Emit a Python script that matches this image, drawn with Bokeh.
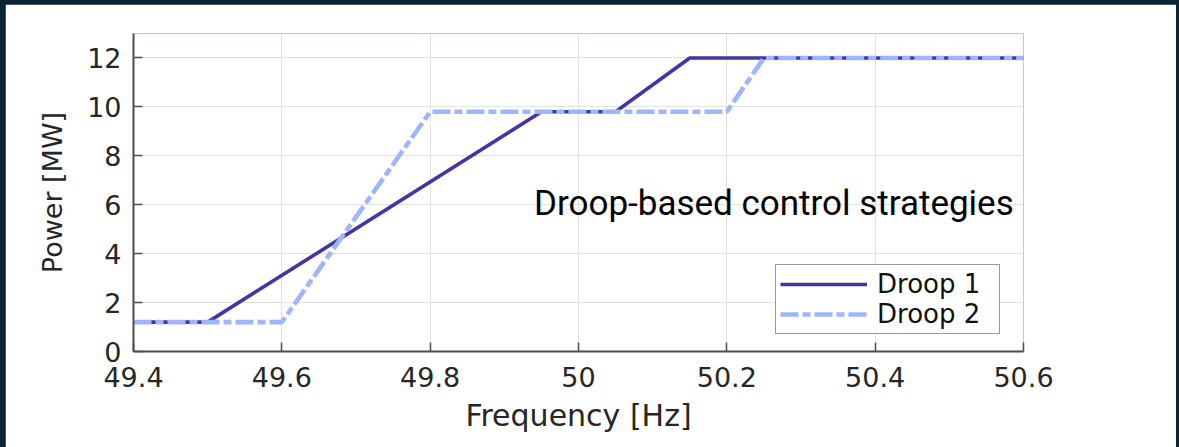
from bokeh.plotting import figure
from bokeh.models import Legend, LegendItem, Label, Column, FixedTicker
from bokeh.embed import file_html
from bokeh.resources import INLINE

# Droop characteristics: frequency [Hz] -> power [MW]
freq_droop1 = [49.4, 49.5, 49.95, 50.05, 50.15, 50.6]
power_droop1 = [1.2, 1.2, 9.8, 9.8, 12.0, 12.0]
freq_droop2 = [49.4, 49.6, 49.8, 50.2, 50.25, 50.6]
power_droop2 = [1.2, 1.2, 9.8, 9.8, 12.0, 12.0]

x_ticks = [49.4, 49.6, 49.8, 50.0, 50.2, 50.4, 50.6]
x_tick_labels = ["49.4", "49.6", "49.8", "50", "50.2", "50.4", "50.6"]
y_ticks = [0, 2, 4, 6, 8, 10, 12]

series_names = ["Droop 1", "Droop 2"]
annotation_text = "Droop-based control strategies"

TICK_FONT = "DejaVu Sans"
TEXT_COLOR = "#262626"

p = figure(
    frame_width=890, frame_height=318,
    min_border_left=128, min_border_right=153,
    min_border_top=29, min_border_bottom=96,
    x_range=(49.4, 50.6), y_range=(0, 13),
    output_backend="svg", toolbar_location=None,
    background_fill_color="white", border_fill_color="white",
)
p.outline_line_color = None

# grid
p.xgrid.ticker = FixedTicker(ticks=x_ticks)
p.ygrid.ticker = FixedTicker(ticks=y_ticks)
for g in (p.xgrid, p.ygrid):
    g.grid_line_color = "#e2e2e2"
    g.grid_line_width = 1

# axes
p.xaxis.ticker = FixedTicker(ticks=x_ticks)
p.xaxis.major_label_overrides = {t: s for t, s in zip(x_ticks, x_tick_labels)}
p.yaxis.ticker = FixedTicker(ticks=y_ticks)
p.xaxis.axis_label = "Frequency [Hz]"
p.yaxis.axis_label = "Power [MW]"
for ax in (p.xaxis, p.yaxis):
    ax.axis_line_color = "#4d4d4d"
    ax.axis_line_width = 2
    ax.major_tick_line_color = "#4d4d4d"
    ax.major_tick_line_width = 1.5
    ax.major_tick_in = 9
    ax.major_tick_out = 0
    ax.minor_tick_line_color = None
    ax.major_label_text_font = TICK_FONT
    ax.major_label_text_font_size = "27px"
    ax.major_label_text_color = TEXT_COLOR
    ax.axis_label_text_font = TICK_FONT
    ax.axis_label_text_font_style = "normal"
    ax.axis_label_text_color = TEXT_COLOR
p.xaxis.major_label_standoff = 15
p.yaxis.major_label_standoff = 12
p.xaxis.axis_label_text_font_size = "30px"
p.yaxis.axis_label_text_font_size = "27px"
p.xaxis.axis_label_standoff = 8
p.yaxis.axis_label_standoff = 16

r1 = p.line(freq_droop1, power_droop1, line_color="#4434a4", line_width=3.6)
r2 = p.line(freq_droop2, power_droop2, line_color="#a0b4ff", line_width=4.6,
            line_dash="18 4 8 4")

legend = Legend(
    items=[LegendItem(label=series_names[0], renderers=[r1]),
           LegendItem(label=series_names[1], renderers=[r2])],
    location=(642, 17),
    border_line_color="#333333", border_line_width=1.2,
    background_fill_color="white", background_fill_alpha=1.0,
    padding=4, spacing=0, margin=0,
    label_height=30, glyph_height=30, glyph_width=87,
    label_standoff=10, label_width=118,
    label_text_font=TICK_FONT, label_text_font_size="26px",
    label_text_color="#111111",
)
p.add_layout(legend)

p.add_layout(Label(
    x=49.94, y=6.05, text=annotation_text,
    text_font="Roboto", text_font_size="35px", text_color="black",
    text_baseline="middle", text_align="left",
))

layout = Column(p, styles={"background-color": "#0b2535",
                           "padding": "4px 3px 0px 5px"})

open("out.html", "w").write(file_html(layout, INLINE))
